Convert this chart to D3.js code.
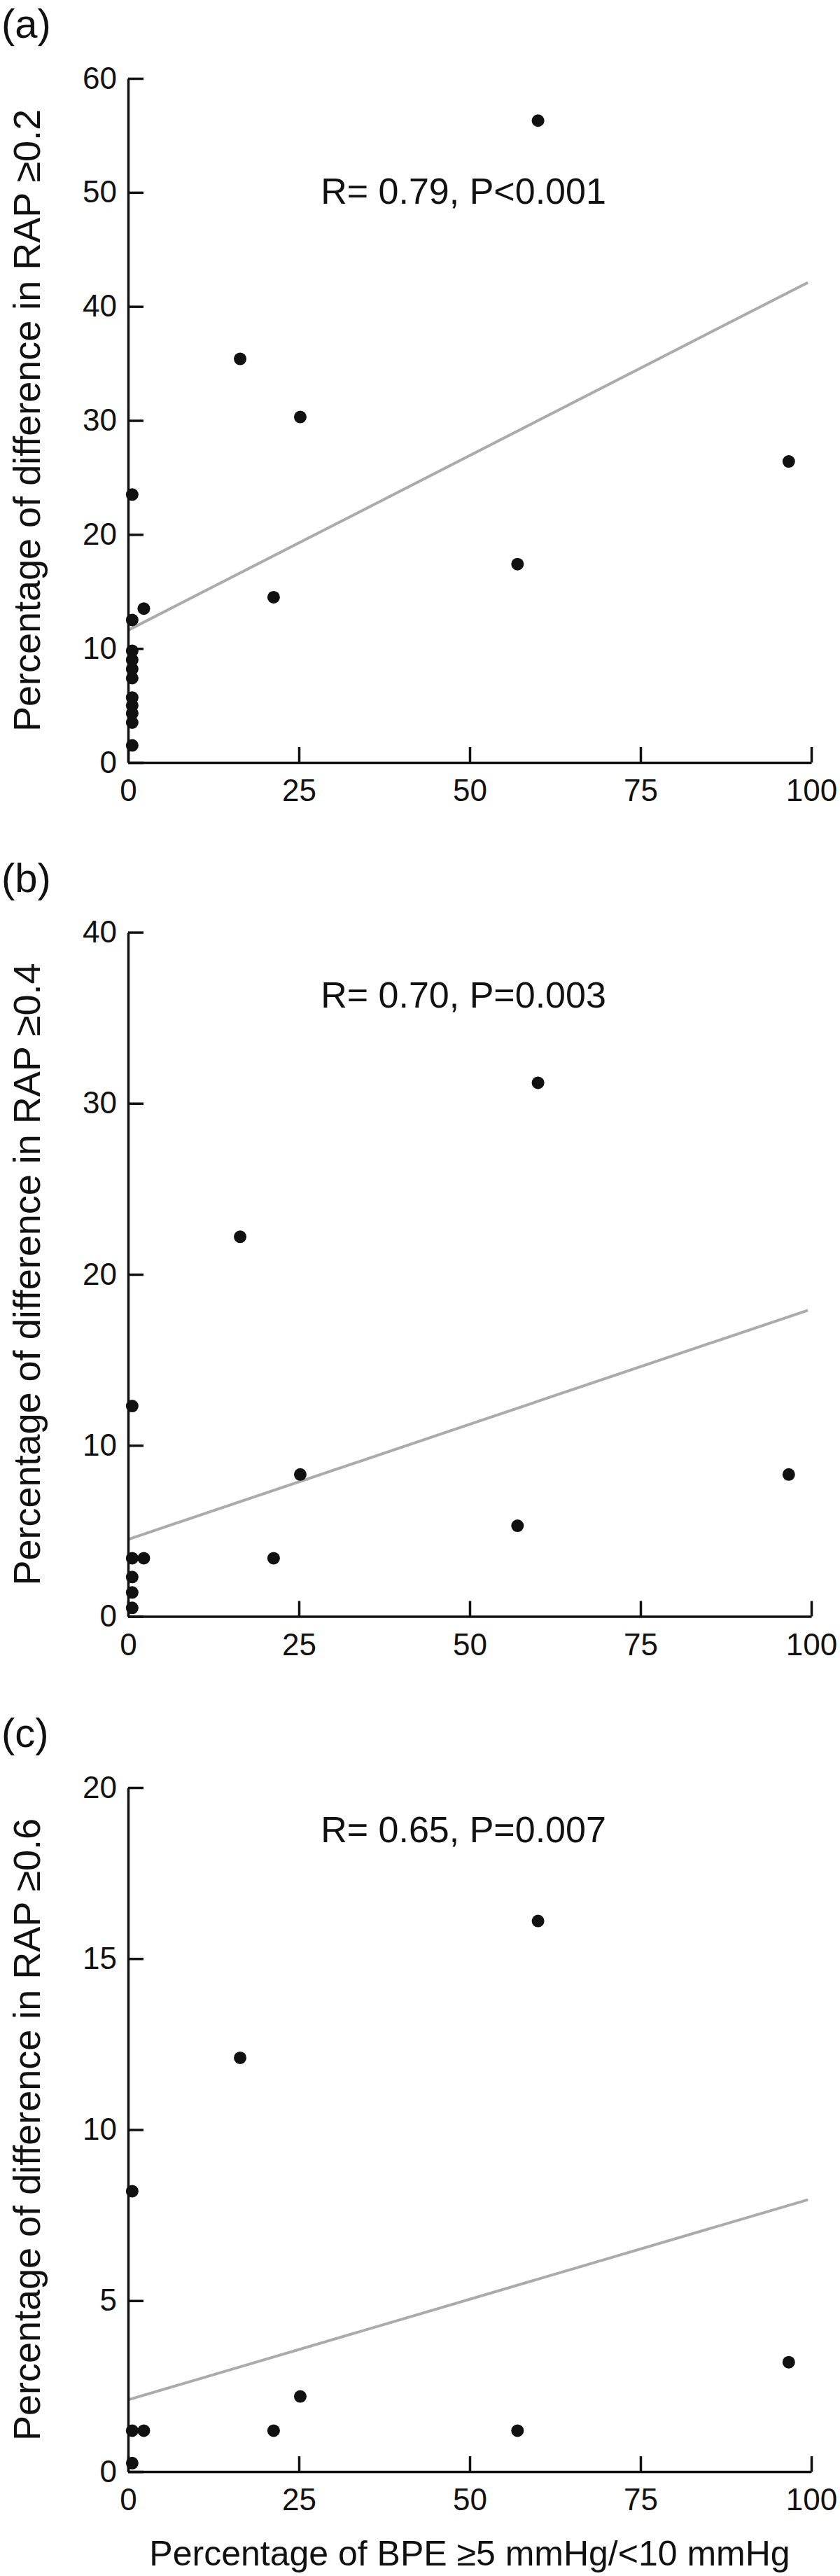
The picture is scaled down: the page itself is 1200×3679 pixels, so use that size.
<!DOCTYPE html>
<html>
<head>
<meta charset="utf-8">
<script src="https://cdn.jsdelivr.net/npm/d3@7"></script>
<style>
  html, body { margin: 0; padding: 0; background: #fff; }
  svg text { font-family: "Liberation Sans", Arial, Helvetica, sans-serif; fill: #111; }
</style>
</head>
<body>
<svg id="chart" width="1200" height="3679"></svg>
<script>
// ---------- data ----------
const panelLetters = ["(a)", "(b)", "(c)"];
const yTitles = [
  "Percentage of difference in RAP \u22650.2",
  "Percentage of difference in RAP \u22650.4",
  "Percentage of difference in RAP \u22650.6"
];
const xTitle = "Percentage of BPE \u22655 mmHg/<10 mmHg";
const xTickValues = [0, 25, 50, 75, 100];
const yTicksA = [0, 10, 20, 30, 40, 50, 60];
const yTicksB = [0, 10, 20, 30, 40];
const yTicksC = [0, 5, 10, 15, 20];

// panel (a): RAP >=0.2
const bpeA = [60, 16.4, 25.2, 96.7, 0.6, 57, 21.3, 2.3, 0.6, 0.6, 0.6, 0.6, 0.6, 0.6, 0.6, 0.6, 0.6, 0.6];
const rapA = [56.3, 35.4, 30.3, 26.4, 23.5, 17.4, 14.5, 13.5, 12.5, 9.8, 9.0, 8.2, 7.4, 5.7, 5.0, 4.3, 3.5, 1.5];
// panel (b): RAP >=0.4
const bpeB = [60, 16.4, 0.6, 25.2, 96.7, 57, 21.3, 2.3, 0.6, 0.6, 0.6, 0.6];
const rapB = [31.2, 22.2, 12.3, 8.3, 8.3, 5.3, 3.4, 3.4, 3.4, 2.3, 1.4, 0.5];
// panel (c): RAP >=0.6
const bpeC = [60, 16.4, 0.6, 96.7, 25.2, 21.3, 2.3, 57, 0.6, 0.6];
const rapC = [16.1, 12.1, 8.2, 3.2, 2.2, 1.2, 1.2, 1.2, 1.2, 0.25];

// regression lines [x, y] end points
const fitA = [[0, 11.6], [99.5, 42.1]];
const fitB = [[0, 4.5], [99.5, 17.9]];
const fitC = [[0, 2.1], [99.5, 7.95]];

// statistics text and its anchor (data coords)
const statsText = ["R= 0.79, P<0.001", "R= 0.70, P=0.003", "R= 0.65, P=0.007"];
const statsPos = [[28.2, 49.0], [28.2, 35.6], [28.2, 18.4]];

const yMaxes = [60, 40, 20];

// ---------- layout ----------
const svg = d3.select("#chart");
const plotLeft = 183, plotRight = 1159, plotH = 977;
const panelTops = [112, 1331.5, 2553];

const panels = [
  { bpe: bpeA, rap: rapA, ticks: yTicksA, fit: fitA },
  { bpe: bpeB, rap: rapB, ticks: yTicksB, fit: fitB },
  { bpe: bpeC, rap: rapC, ticks: yTicksC, fit: fitC }
];

const x = d3.scaleLinear().domain([0, 100]).range([plotLeft, plotRight]);

panels.forEach((p, i) => {
  const top = panelTops[i];
  const y = d3.scaleLinear().domain([0, yMaxes[i]]).range([top + plotH, top]);
  const g = svg.append("g");

  // panel letter
  g.append("text")
    .attr("x", 2).attr("y", top - 58)
    .attr("font-size", 58)
    .text(panelLetters[i]);

  // regression line
  g.append("line")
    .attr("x1", x(p.fit[0][0])).attr("y1", y(p.fit[0][1]))
    .attr("x2", x(p.fit[1][0])).attr("y2", y(p.fit[1][1]))
    .attr("stroke", "#ababab").attr("stroke-width", 4);

  // points
  const pts = p.bpe.map((v, k) => [v, p.rap[k]]);
  g.selectAll("circle.pt").data(pts).join("circle")
    .attr("class", "pt")
    .attr("cx", d => x(d[0])).attr("cy", d => y(d[1]))
    .attr("r", 9).attr("fill", "#111");

  // y axis
  const ya = g.append("g").attr("transform", `translate(${plotLeft},0)`)
    .call(d3.axisLeft(y).tickValues(p.ticks).tickSizeInner(-22).tickSizeOuter(0).tickPadding(16));
  // x axis
  const xa = g.append("g").attr("transform", `translate(0,${top + plotH})`)
    .call(d3.axisBottom(x).tickValues(xTickValues).tickSizeInner(-22).tickSizeOuter(0).tickPadding(24));

  [ya, xa].forEach(a => {
    a.selectAll("path.domain").attr("stroke", "#111").attr("stroke-width", 3.5);
    a.selectAll(".tick line").attr("stroke", "#111").attr("stroke-width", 3.5);
    a.selectAll(".tick text").attr("font-size", 44).attr("fill", "#111")
      .attr("font-family", '"Liberation Sans", Arial, sans-serif');
  });

  // y title
  g.append("text")
    .attr("transform", `translate(57,${top + plotH / 2}) rotate(-90)`)
    .attr("text-anchor", "middle")
    .attr("font-size", 54)
    .text(yTitles[i]);

  // statistics
  g.append("text")
    .attr("x", x(statsPos[i][0])).attr("y", y(statsPos[i][1]))
    .attr("font-size", 52)
    .text(statsText[i]);
});

// x title (bottom)
svg.append("text")
  .attr("x", (plotLeft + plotRight) / 2).attr("y", 3664)
  .attr("text-anchor", "middle")
  .attr("font-size", 50)
  .text(xTitle);
</script>
</body>
</html>
